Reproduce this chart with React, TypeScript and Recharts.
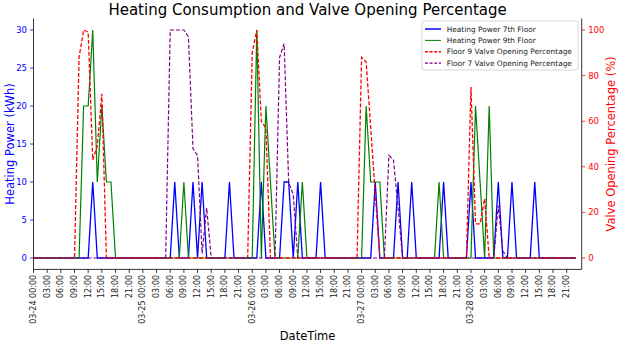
import React from 'react';
import { LineChart, Line, XAxis, YAxis } from 'recharts';

// Hourly samples, 03-24 00:00 .. 03-28 23:00 (index = hours since start)
const days = ['03-24', '03-25', '03-26', '03-27', '03-28'];
const hourLabels = ['00:00', '03:00', '06:00', '09:00', '12:00', '15:00', '18:00', '21:00'];

const heatingPower7th = [
  0,0,0,0,0,0,0,0,0,0,0,0,0,10,0,0,0,0,0,0,0,0,0,0,
  0,0,0,0,0,0,0,10,0,0,0,10,0,10,0,0,0,0,0,10,0,0,0,0,
  0,0,10,0,0,0,0,10,10,0,10,0,0,0,0,10,0,0,0,0,0,0,0,0,
  0,0,0,10,0,0,0,0,10,0,0,10,0,0,0,0,0,0,10,0,0,0,0,0,
  10,0,0,0,0,0,10,0,0,10,0,0,0,0,10,0,0,0,0,0,0,0,0,0,
];

const heatingPower9th = [
  0,0,0,0,0,0,0,0,0,0,0,20,20,30,10,20,10,10,0,0,0,0,0,0,
  0,0,0,0,0,0,0,0,0,10,0,0,0,0,0,0,0,0,0,0,0,0,0,0,
  0,30,0,20,10,0,0,0,0,0,0,10,0,0,0,0,0,0,0,0,0,0,0,0,
  0,20,10,10,10,0,0,0,0,0,0,0,0,0,0,0,0,10,0,0,0,0,0,0,
  0,20,10,0,20,0,0,0,0,0,0,0,0,0,0,0,0,0,0,0,0,0,0,0,
];

const valveFloor9 = [
  0,0,0,0,0,0,0,0,0,0,88,100,99,43,49,72,0,0,0,0,0,0,0,0,
  0,0,0,0,0,0,0,0,0,0,0,0,0,0,0,0,0,0,0,0,0,0,0,0,
  90,100,60,57,0,0,0,0,0,0,0,0,0,0,0,0,0,0,0,0,0,0,0,0,
  88,86,57,28,0,0,0,0,0,0,0,0,0,0,0,0,0,0,0,0,0,0,0,0,
  75,15,15,26,0,0,0,0,0,0,0,0,0,0,0,0,0,0,0,0,0,0,0,0,
];

const valveFloor7 = [
  0,0,0,0,0,0,0,0,0,0,0,0,0,0,0,0,0,0,0,0,0,0,0,0,
  0,0,0,0,0,0,100,100,100,100,97,48,45,2,22,0,0,0,0,0,0,0,0,0,
  0,0,0,0,0,0,88,94,33,28,0,0,0,0,0,0,0,0,0,0,0,0,0,0,
  0,0,0,0,0,0,45,43,22,0,0,0,0,0,0,0,0,0,0,0,0,0,0,0,
  0,0,0,0,0,0,23,3,0,0,0,0,0,0,0,0,0,0,0,0,0,0,0,0,
];

const leftTicks = [0, 5, 10, 15, 20, 25, 30];
const rightTicks = [0, 20, 40, 60, 80, 100];
const xTicks = days.flatMap((_, d) => hourLabels.map((_, k) => d * 24 + k * 3));

const data = heatingPower7th.map((v, i) => ({
  t: i,
  p7: v,
  p9: heatingPower9th[i],
  v9: valveFloor9[i],
  v7: valveFloor7[i],
}));

const FONT = '"DejaVu Sans", sans-serif';
const BLUE = '#0000ff';
const GREEN = '#008000';
const RED = '#ff0000';
const PURPLE = '#800080';

const XTick = (props: any) => {
  const { x, y, payload } = props;
  const h = payload.value as number;
  const label = h % 24 === 0 ? `${days[h / 24]} ${hourLabels[0]}` : hourLabels[(h % 24) / 3];
  return (
    <text
      x={x}
      y={y}
      transform={`rotate(-90 ${x} ${y})`}
      textAnchor="end"
      dominantBaseline="central"
      fontSize={8}
      fontFamily={FONT}
      fill="#222"
    >
      {label}
    </text>
  );
};

const legendItems = [
  { label: 'Heating Power 7th Floor', color: BLUE, dash: undefined, w: 1.5 },
  { label: 'Heating Power 9th Floor', color: GREEN, dash: undefined, w: 1 },
  { label: 'Floor 9 Valve Opening Percentage', color: RED, dash: '3 1.6', w: 1.5 },
  { label: 'Floor 7 Valve Opening Percentage', color: PURPLE, dash: '3 1.6', w: 1.2 },
];

export default function App() {
  return (
    <div style={{ position: 'relative', width: 620, height: 344, background: '#fff' }}>
      <style>{`body{margin:0}`}</style>
      <LineChart
        width={620}
        height={344}
        data={data}
        margin={{ top: 18.6, right: 0, bottom: 0, left: 0 }}
      >
        <XAxis
          xAxisId="b"
          dataKey="t"
          type="number"
          domain={[0, 120.3]}
          allowDataOverflow
          ticks={xTicks}
          interval={0}
          height={74.6}
          tickSize={3.5}
          tickMargin={2}
          tick={<XTick />}
          axisLine={{ stroke: '#000', strokeWidth: 0.8 }}
          tickLine={{ stroke: '#000', strokeWidth: 0.8 }}
        />
        <XAxis
          xAxisId="top"
          orientation="top"
          dataKey="t"
          type="number"
          domain={[0, 120.3]}
          height={0}
          tick={false}
          tickLine={false}
          axisLine={{ stroke: '#000', strokeWidth: 0.8 }}
        />
        <YAxis
          yAxisId="l"
          orientation="left"
          type="number"
          domain={[-1.5, 31.5]}
          ticks={leftTicks}
          width={33.5}
          tickSize={3.5}
          tickMargin={3}
          tick={{ fill: BLUE, fontSize: 8.5, fontFamily: FONT }}
          axisLine={{ stroke: '#000', strokeWidth: 0.8 }}
          tickLine={{ stroke: BLUE, strokeWidth: 0.8 }}
        />
        <YAxis
          yAxisId="r"
          orientation="right"
          type="number"
          domain={[-5, 105]}
          ticks={rightTicks}
          width={38.3}
          tickSize={3.5}
          tickMargin={3}
          tick={{ fill: RED, fontSize: 8.5, fontFamily: FONT }}
          axisLine={{ stroke: '#000', strokeWidth: 0.8 }}
          tickLine={{ stroke: RED, strokeWidth: 0.8 }}
        />
        <Line xAxisId="b" yAxisId="l" type="linear" dataKey="p7" stroke={BLUE} strokeWidth={1.3} dot={false} isAnimationActive={false} />
        <Line xAxisId="b" yAxisId="l" type="linear" dataKey="p9" stroke={GREEN} strokeWidth={1.2} dot={false} isAnimationActive={false} />
        <Line xAxisId="b" yAxisId="r" type="linear" dataKey="v9" stroke={RED} strokeWidth={1.3} strokeDasharray="4 2" dot={false} isAnimationActive={false} />
        <Line xAxisId="b" yAxisId="r" type="linear" dataKey="v7" stroke={PURPLE} strokeWidth={1.2} strokeDasharray="4 2" dot={false} isAnimationActive={false} />
      </LineChart>
      <svg
        width={620}
        height={344}
        style={{ position: 'absolute', left: 0, top: 0, pointerEvents: 'none' }}
        fontFamily={FONT}
      >
        <text x={307.6} y={15} textAnchor="middle" fontSize={15} fill="#000">
          Heating Consumption and Valve Opening Percentage
        </text>
        <text
          x={10}
          y={144}
          transform="rotate(-90 10 144)"
          textAnchor="middle"
          dominantBaseline="central"
          fontSize={11.5}
          fill={BLUE}
        >
          Heating Power (kWh)
        </text>
        <text
          x={611}
          y={144}
          transform="rotate(-90 611 144)"
          textAnchor="middle"
          dominantBaseline="central"
          fontSize={11.5}
          fill={RED}
        >
          Valve Opening Percentage (%)
        </text>
        <text x={307.6} y={340} textAnchor="middle" fontSize={11.5} fill="#000">
          DateTime
        </text>
        <rect x={422} y={21} width={156} height={49} rx={2} fill="rgba(255,255,255,0.8)" stroke="#cccccc" strokeWidth={0.8} />
        {legendItems.map((it, i) => {
          const cy = 29 + i * 11.4;
          return (
            <g key={it.label}>
              <line x1={425} x2={441} y1={cy} y2={cy} stroke={it.color} strokeWidth={it.w} strokeDasharray={it.dash} />
              <text x={446.7} y={cy} dominantBaseline="central" fontSize={7.4} fill="#222">
                {it.label}
              </text>
            </g>
          );
        })}
      </svg>
    </div>
  );
}
